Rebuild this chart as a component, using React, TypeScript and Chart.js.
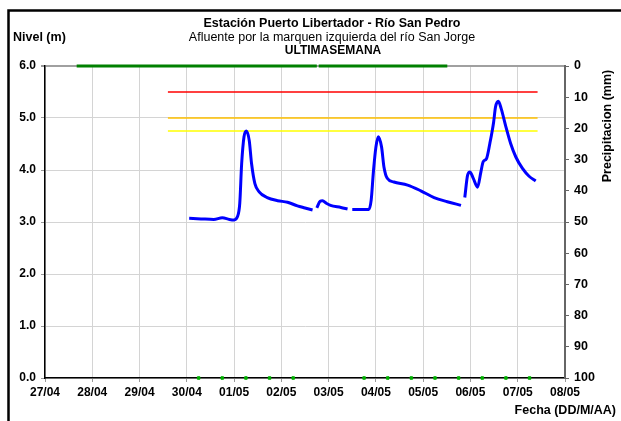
import React, { useEffect, useRef } from "react";
import { Chart, registerables } from "chart.js";

Chart.register(...registerables);

// X axis: days since 27/04 00:00
const dayLabels = ["27/04", "28/04", "29/04", "30/04", "01/05", "02/05", "03/05", "04/05", "05/05", "06/05", "07/05", "08/05"];
const levelTicks = [0, 1, 2, 3, 4, 5, 6];
const precipTicks = [0, 10, 20, 30, 40, 50, 60, 70, 80, 90, 100];

// Nivel (m) — blue series (null = gap)
const nivelDays = [
  3.05, 3.3, 3.57, 3.75, 3.9, 4.0, 4.07, 4.12, 4.16, 4.21, 4.26, 4.32, 4.37, 4.44, 4.53, 4.7, 4.92, 5.13, 5.34, 5.5, 5.66,
  5.7,
  5.75, 5.82, 5.87, 5.95, 6.04, 6.26, 6.4,
  6.45,
  6.5, 6.7, 6.85, 6.9, 6.95, 7.0, 7.05, 7.12, 7.17, 7.24, 7.38, 7.67, 7.95, 8.23, 8.51, 8.8,
  8.84,
  8.88, 8.94, 8.99, 9.06, 9.15, 9.22, 9.27, 9.34, 9.41, 9.49, 9.53, 9.59, 9.65, 9.75, 9.85, 9.96, 10.1, 10.24, 10.38,
];
const nivelValues = [
  3.07, 3.06, 3.05, 3.08, 3.05, 3.04, 3.1, 3.36, 4.12, 4.64, 4.75, 4.57, 4.12, 3.74, 3.58, 3.47, 3.41, 3.38, 3.31, 3.27, 3.23,
  null,
  3.27, 3.4, 3.41, 3.36, 3.32, 3.28, 3.25,
  null,
  3.24, 3.24, 3.24, 3.42, 4.0, 4.44, 4.64, 4.44, 4.06, 3.84, 3.77, 3.71, 3.6, 3.47, 3.39, 3.32,
  null,
  3.47, 3.9, 3.96, 3.84, 3.67, 3.96, 4.16, 4.22, 4.51, 4.92, 5.21, 5.32, 5.18, 4.83, 4.51, 4.25, 4.03, 3.88, 3.79,
];

// Precipitación (mm) — green line at top (reversed axis)
const precipDays = [0.67, 5.75, 5.77, 5.79, 8.51];
const precipValues = [0, 0, null, 0, 0];

// Lecturas (green dots at 0)
const lecturaDays = [3.25, 3.75, 4.25, 4.75, 5.25, 6.75, 7.25, 7.75, 8.25, 8.75, 9.25, 9.75, 10.25];
const lecturaValues = [0, 0, 0, 0, 0, 0, 0, 0, 0, 0, 0, 0, 0];

// Alert thresholds
const thresholdStart = 2.6;
const thresholdEnd = 10.42;
const alertaRoja = 5.5;
const alertaNaranja = 5.0;
const alertaAmarilla = 4.75;

const FONT = "'Liberation Sans', Arial, sans-serif";

const textPlugin = {
  id: "texts",
  afterDraw(chart: any) {
    const ctx = chart.ctx;
    ctx.save();
    ctx.fillStyle = "#000";
    ctx.textBaseline = "middle";
    ctx.textAlign = "center";
    ctx.font = `bold 12.5px ${FONT}`;
    ctx.fillText("Estación Puerto Libertador - Río San Pedro", 332, 24);
    ctx.font = `12.5px ${FONT}`;
    ctx.fillText("Afluente por la marquen izquierda del río San Jorge", 332, 38);
    ctx.font = `bold 12px ${FONT}`;
    ctx.fillText("ULTIMASEMANA", 333, 51);
    ctx.textAlign = "left";
    ctx.font = `bold 12.5px ${FONT}`;
    ctx.fillText("Nivel (m)", 13, 38);
    ctx.textAlign = "right";
    ctx.fillText("Fecha (DD/M/AA)", 616, 411);
    ctx.save();
    ctx.translate(608, 126);
    ctx.rotate(-Math.PI / 2);
    ctx.textAlign = "center";
    ctx.fillText("Precipitacion (mm)", 0, 0);
    ctx.restore();
    // frame
    ctx.strokeStyle = "#000";
    ctx.lineWidth = 2.5;
    ctx.beginPath();
    ctx.moveTo(8.5, 421);
    ctx.lineTo(8.5, 10.5);
    ctx.lineTo(621, 10.5);
    ctx.stroke();
    ctx.restore();
  },
};

function pts(xs: number[], ys: (number | null)[]) {
  return xs.map((x, i) => ({ x, y: ys[i] }));
}

export default function App() {
  const ref = useRef<HTMLCanvasElement>(null);
  useEffect(() => {
    document.body.style.margin = "0";
    const thr = (v: number, color: string) => ({
      type: "line" as const,
      data: [
        { x: thresholdStart, y: v },
        { x: thresholdEnd, y: v },
      ],
      borderColor: color,
      borderWidth: 1.5,
      pointRadius: 0,
      yAxisID: "y",
    });
    const chart = new Chart(ref.current!, {
      type: "line",
      data: {
        datasets: [
          {
            data: pts(nivelDays, nivelValues) as any,
            borderColor: "#0000ff",
            borderWidth: 3,
            pointRadius: 0,
            tension: 0.3,
            cubicInterpolationMode: "monotone",
            spanGaps: false,
            yAxisID: "y",
            order: 0,
          },
          thr(alertaRoja, "#ff0000"),
          thr(alertaNaranja, "#ffc000"),
          thr(alertaAmarilla, "#ffff00"),
          {
            data: pts(precipDays, precipValues) as any,
            borderColor: "#008000",
            borderWidth: 3,
            pointRadius: 0,
            spanGaps: false,
            clip: false,
            yAxisID: "y2",
          },
          {
            data: pts(lecturaDays, lecturaValues) as any,
            borderColor: "#00b000",
            backgroundColor: "#00b000",
            showLine: false,
            pointRadius: 1.8,
            pointStyle: "rect",
            clip: false,
            yAxisID: "y",
          },
        ] as any,
      },
      options: {
        animation: false,
        responsive: false,
        devicePixelRatio: 1,
        layout: { padding: { top: 66, left: 0, right: 0, bottom: 0 } },
        plugins: { legend: { display: false }, tooltip: { enabled: false }, title: { display: false } },
        scales: {
          x: {
            type: "linear",
            min: 0,
            max: 11,
            afterFit: (s: any) => {
              s.height = 43;
            },
            afterBuildTicks: (s: any) => {
              s.ticks = dayLabels.map((_, i) => ({ value: i }));
            },
            ticks: {
              callback: (v: any) => dayLabels[v] ?? "",
              font: { family: FONT, size: 12, weight: "bold" },
              color: "#000",
              padding: 3,
              maxRotation: 0,
              autoSkip: false,
            },
            grid: { color: "#d4d4d4", lineWidth: 1, tickLength: 4, tickColor: "#999" },
            border: { color: "#000", width: 1.5 },
          },
          y: {
            position: "left",
            min: 0,
            max: 6,
            afterFit: (s: any) => {
              s.width = 45;
            },
            afterBuildTicks: (s: any) => {
              s.ticks = levelTicks.map((v) => ({ value: v }));
            },
            ticks: {
              callback: (v: any) => Number(v).toFixed(1),
              font: { family: FONT, size: 12, weight: "bold" },
              color: "#000",
              padding: 5,
            },
            grid: {
              color: (c: any) => (c.tick && c.tick.value === 6 ? "#a0a0a0" : "#d4d4d4"),
              lineWidth: (c: any) => (c.tick && c.tick.value === 6 ? 2 : 1),
              tickLength: 4,
              tickColor: "#999",
            },
            border: { color: "#000", width: 1.5 },
          },
          y2: {
            position: "right",
            reverse: true,
            min: 0,
            max: 100,
            afterFit: (s: any) => {
              s.width = 56;
            },
            afterBuildTicks: (s: any) => {
              s.ticks = precipTicks.map((v) => ({ value: v }));
            },
            ticks: {
              font: { family: FONT, size: 12.5, weight: "bold" },
              color: "#000",
              padding: 5,
            },
            grid: { drawOnChartArea: false, tickLength: 4, tickColor: "#666", lineWidth: 1 },
            border: { color: "#666", width: 2 },
          },
        },
      } as any,
      plugins: [textPlugin],
    });
    return () => chart.destroy();
  }, []);
  return (
    <div style={{ position: "absolute", left: 0, top: 0, width: 621, height: 421, background: "#fff" }}>
      <canvas ref={ref} width={621} height={421} />
    </div>
  );
}
